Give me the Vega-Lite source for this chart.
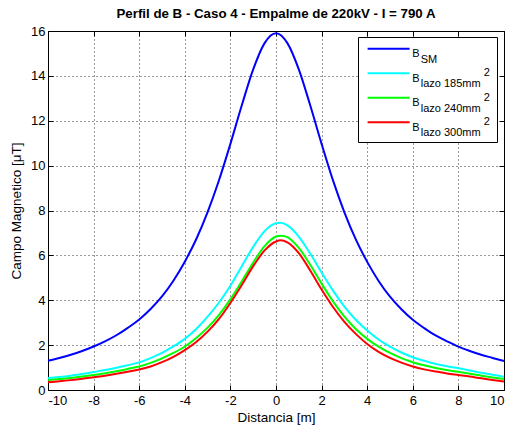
{
  "$schema": "https://vega.github.io/schema/vega-lite/v6.json",
  "autosize": {"type": "none"},
  "width": 456,
  "height": 359,
  "padding": {"left": 48, "top": 31, "right": 8, "bottom": 38},
  "background": "white",
  "config": {
    "font": "Liberation Sans",
    "view": {"stroke": "black", "strokeWidth": 1},
    "axis": {
      "domain": false,
      "labelColor": "black",
      "labelFontSize": 13,
      "labelFont": "Liberation Sans",
      "titleFont": "Liberation Sans",
      "titleFontSize": 13.5,
      "titleFontWeight": "normal",
      "titleColor": "black",
      "ticks": true,
      "tickColor": "black",
      "tickWidth": 1,
      "tickSize": -5,
      "gridColor": "black",
      "gridDash": [1, 3],
      "gridOpacity": 0.8,
      "gridWidth": 1
    }
  },
  "title": {"text": "Perfil de B - Caso 4 - Empalme de 220kV - I = 790 A", "font": "Liberation Sans", "fontSize": 13.3, "fontWeight": "bold", "color": "black", "offset": 5},
  "data": {"values": [
    {"x": -10, "s": "B_SM", "B": 1.30}, {"x": -9.5, "s": "B_SM", "B": 1.43}, {"x": -9, "s": "B_SM", "B": 1.57}, {"x": -8.5, "s": "B_SM", "B": 1.74}, {"x": -8, "s": "B_SM", "B": 1.94}, {"x": -7.5, "s": "B_SM", "B": 2.17}, {"x": -7, "s": "B_SM", "B": 2.44}, {"x": -6.5, "s": "B_SM", "B": 2.77}, {"x": -6, "s": "B_SM", "B": 3.14}, {"x": -5.5, "s": "B_SM", "B": 3.61}, {"x": -5, "s": "B_SM", "B": 4.17}, {"x": -4.5, "s": "B_SM", "B": 4.87}, {"x": -4, "s": "B_SM", "B": 5.72}, {"x": -3.5, "s": "B_SM", "B": 6.72}, {"x": -3, "s": "B_SM", "B": 7.93}, {"x": -2.5, "s": "B_SM", "B": 9.35}, {"x": -2, "s": "B_SM", "B": 10.97}, {"x": -1.5, "s": "B_SM", "B": 12.69}, {"x": -1, "s": "B_SM", "B": 14.29}, {"x": -0.5, "s": "B_SM", "B": 15.46}, {"x": 0, "s": "B_SM", "B": 15.9}, {"x": 0.5, "s": "B_SM", "B": 15.46}, {"x": 1, "s": "B_SM", "B": 14.29}, {"x": 1.5, "s": "B_SM", "B": 12.69}, {"x": 2, "s": "B_SM", "B": 10.97}, {"x": 2.5, "s": "B_SM", "B": 9.34}, {"x": 3, "s": "B_SM", "B": 7.92}, {"x": 3.5, "s": "B_SM", "B": 6.71}, {"x": 4, "s": "B_SM", "B": 5.71}, {"x": 4.5, "s": "B_SM", "B": 4.86}, {"x": 5, "s": "B_SM", "B": 4.16}, {"x": 5.5, "s": "B_SM", "B": 3.6}, {"x": 6, "s": "B_SM", "B": 3.13}, {"x": 6.5, "s": "B_SM", "B": 2.76}, {"x": 7, "s": "B_SM", "B": 2.43}, {"x": 7.5, "s": "B_SM", "B": 2.17}, {"x": 8, "s": "B_SM", "B": 1.93}, {"x": 8.5, "s": "B_SM", "B": 1.74}, {"x": 9, "s": "B_SM", "B": 1.57}, {"x": 9.5, "s": "B_SM", "B": 1.43}, {"x": 10, "s": "B_SM", "B": 1.29},

    {"x": -10, "s": "B_lazo 185mm^2", "B": 0.53}, {"x": -9.5, "s": "B_lazo 185mm^2", "B": 0.58}, {"x": -9, "s": "B_lazo 185mm^2", "B": 0.64}, {"x": -8.5, "s": "B_lazo 185mm^2", "B": 0.71}, {"x": -8, "s": "B_lazo 185mm^2", "B": 0.8}, {"x": -7.5, "s": "B_lazo 185mm^2", "B": 0.89}, {"x": -7, "s": "B_lazo 185mm^2", "B": 0.99}, {"x": -6.5, "s": "B_lazo 185mm^2", "B": 1.1}, {"x": -6, "s": "B_lazo 185mm^2", "B": 1.23}, {"x": -5.5, "s": "B_lazo 185mm^2", "B": 1.42}, {"x": -5, "s": "B_lazo 185mm^2", "B": 1.65}, {"x": -4.5, "s": "B_lazo 185mm^2", "B": 1.94}, {"x": -4, "s": "B_lazo 185mm^2", "B": 2.28}, {"x": -3.5, "s": "B_lazo 185mm^2", "B": 2.72}, {"x": -3, "s": "B_lazo 185mm^2", "B": 3.27}, {"x": -2.5, "s": "B_lazo 185mm^2", "B": 3.9}, {"x": -2, "s": "B_lazo 185mm^2", "B": 4.65}, {"x": -1.5, "s": "B_lazo 185mm^2", "B": 5.52}, {"x": -1, "s": "B_lazo 185mm^2", "B": 6.38}, {"x": -0.5, "s": "B_lazo 185mm^2", "B": 7.08}, {"x": 0, "s": "B_lazo 185mm^2", "B": 7.43}, {"x": 0.2, "s": "B_lazo 185mm^2", "B": 7.45}, {"x": 0.5, "s": "B_lazo 185mm^2", "B": 7.34}, {"x": 1, "s": "B_lazo 185mm^2", "B": 6.84}, {"x": 1.5, "s": "B_lazo 185mm^2", "B": 6.08}, {"x": 2, "s": "B_lazo 185mm^2", "B": 5.24}, {"x": 2.5, "s": "B_lazo 185mm^2", "B": 4.43}, {"x": 3, "s": "B_lazo 185mm^2", "B": 3.72}, {"x": 3.5, "s": "B_lazo 185mm^2", "B": 3.13}, {"x": 4, "s": "B_lazo 185mm^2", "B": 2.65}, {"x": 4.5, "s": "B_lazo 185mm^2", "B": 2.25}, {"x": 5, "s": "B_lazo 185mm^2", "B": 1.93}, {"x": 5.5, "s": "B_lazo 185mm^2", "B": 1.67}, {"x": 6, "s": "B_lazo 185mm^2", "B": 1.46}, {"x": 6.5, "s": "B_lazo 185mm^2", "B": 1.3}, {"x": 7, "s": "B_lazo 185mm^2", "B": 1.16}, {"x": 7.5, "s": "B_lazo 185mm^2", "B": 1.06}, {"x": 8, "s": "B_lazo 185mm^2", "B": 0.97}, {"x": 8.5, "s": "B_lazo 185mm^2", "B": 0.87}, {"x": 9, "s": "B_lazo 185mm^2", "B": 0.77}, {"x": 9.5, "s": "B_lazo 185mm^2", "B": 0.68}, {"x": 10, "s": "B_lazo 185mm^2", "B": 0.59},

    {"x": -10, "s": "B_lazo 240mm^2", "B": 0.44}, {"x": -9.5, "s": "B_lazo 240mm^2", "B": 0.49}, {"x": -9, "s": "B_lazo 240mm^2", "B": 0.54}, {"x": -8.5, "s": "B_lazo 240mm^2", "B": 0.6}, {"x": -8, "s": "B_lazo 240mm^2", "B": 0.67}, {"x": -7.5, "s": "B_lazo 240mm^2", "B": 0.75}, {"x": -7, "s": "B_lazo 240mm^2", "B": 0.84}, {"x": -6.5, "s": "B_lazo 240mm^2", "B": 0.94}, {"x": -6, "s": "B_lazo 240mm^2", "B": 1.05}, {"x": -5.5, "s": "B_lazo 240mm^2", "B": 1.21}, {"x": -5, "s": "B_lazo 240mm^2", "B": 1.41}, {"x": -4.5, "s": "B_lazo 240mm^2", "B": 1.65}, {"x": -4, "s": "B_lazo 240mm^2", "B": 1.94}, {"x": -3.5, "s": "B_lazo 240mm^2", "B": 2.32}, {"x": -3, "s": "B_lazo 240mm^2", "B": 2.78}, {"x": -2.5, "s": "B_lazo 240mm^2", "B": 3.35}, {"x": -2, "s": "B_lazo 240mm^2", "B": 4.04}, {"x": -1.5, "s": "B_lazo 240mm^2", "B": 4.84}, {"x": -1, "s": "B_lazo 240mm^2", "B": 5.68}, {"x": -0.5, "s": "B_lazo 240mm^2", "B": 6.41}, {"x": 0, "s": "B_lazo 240mm^2", "B": 6.84}, {"x": 0.22, "s": "B_lazo 240mm^2", "B": 6.88}, {"x": 0.5, "s": "B_lazo 240mm^2", "B": 6.81}, {"x": 1, "s": "B_lazo 240mm^2", "B": 6.33}, {"x": 1.5, "s": "B_lazo 240mm^2", "B": 5.58}, {"x": 2, "s": "B_lazo 240mm^2", "B": 4.74}, {"x": 2.5, "s": "B_lazo 240mm^2", "B": 3.95}, {"x": 3, "s": "B_lazo 240mm^2", "B": 3.27}, {"x": 3.5, "s": "B_lazo 240mm^2", "B": 2.72}, {"x": 4, "s": "B_lazo 240mm^2", "B": 2.28}, {"x": 4.5, "s": "B_lazo 240mm^2", "B": 1.93}, {"x": 5, "s": "B_lazo 240mm^2", "B": 1.65}, {"x": 5.5, "s": "B_lazo 240mm^2", "B": 1.42}, {"x": 6, "s": "B_lazo 240mm^2", "B": 1.24}, {"x": 6.5, "s": "B_lazo 240mm^2", "B": 1.1}, {"x": 7, "s": "B_lazo 240mm^2", "B": 0.98}, {"x": 7.5, "s": "B_lazo 240mm^2", "B": 0.89}, {"x": 8, "s": "B_lazo 240mm^2", "B": 0.81}, {"x": 8.5, "s": "B_lazo 240mm^2", "B": 0.72}, {"x": 9, "s": "B_lazo 240mm^2", "B": 0.64}, {"x": 9.5, "s": "B_lazo 240mm^2", "B": 0.56}, {"x": 10, "s": "B_lazo 240mm^2", "B": 0.49},

    {"x": -10, "s": "B_lazo 300mm^2", "B": 0.35}, {"x": -9.5, "s": "B_lazo 300mm^2", "B": 0.39}, {"x": -9, "s": "B_lazo 300mm^2", "B": 0.44}, {"x": -8.5, "s": "B_lazo 300mm^2", "B": 0.5}, {"x": -8, "s": "B_lazo 300mm^2", "B": 0.57}, {"x": -7.5, "s": "B_lazo 300mm^2", "B": 0.64}, {"x": -7, "s": "B_lazo 300mm^2", "B": 0.72}, {"x": -6.5, "s": "B_lazo 300mm^2", "B": 0.81}, {"x": -6, "s": "B_lazo 300mm^2", "B": 0.91}, {"x": -5.5, "s": "B_lazo 300mm^2", "B": 1.05}, {"x": -5, "s": "B_lazo 300mm^2", "B": 1.24}, {"x": -4.5, "s": "B_lazo 300mm^2", "B": 1.48}, {"x": -4, "s": "B_lazo 300mm^2", "B": 1.78}, {"x": -3.5, "s": "B_lazo 300mm^2", "B": 2.14}, {"x": -3, "s": "B_lazo 300mm^2", "B": 2.6}, {"x": -2.5, "s": "B_lazo 300mm^2", "B": 3.17}, {"x": -2, "s": "B_lazo 300mm^2", "B": 3.88}, {"x": -1.5, "s": "B_lazo 300mm^2", "B": 4.68}, {"x": -1, "s": "B_lazo 300mm^2", "B": 5.52}, {"x": -0.5, "s": "B_lazo 300mm^2", "B": 6.22}, {"x": 0, "s": "B_lazo 300mm^2", "B": 6.62}, {"x": 0.2, "s": "B_lazo 300mm^2", "B": 6.67}, {"x": 0.5, "s": "B_lazo 300mm^2", "B": 6.58}, {"x": 1, "s": "B_lazo 300mm^2", "B": 6.1}, {"x": 1.5, "s": "B_lazo 300mm^2", "B": 5.33}, {"x": 2, "s": "B_lazo 300mm^2", "B": 4.48}, {"x": 2.5, "s": "B_lazo 300mm^2", "B": 3.7}, {"x": 3, "s": "B_lazo 300mm^2", "B": 3.04}, {"x": 3.5, "s": "B_lazo 300mm^2", "B": 2.5}, {"x": 4, "s": "B_lazo 300mm^2", "B": 2.05}, {"x": 4.5, "s": "B_lazo 300mm^2", "B": 1.7}, {"x": 5, "s": "B_lazo 300mm^2", "B": 1.43}, {"x": 5.5, "s": "B_lazo 300mm^2", "B": 1.22}, {"x": 6, "s": "B_lazo 300mm^2", "B": 1.05}, {"x": 6.5, "s": "B_lazo 300mm^2", "B": 0.92}, {"x": 7, "s": "B_lazo 300mm^2", "B": 0.82}, {"x": 7.5, "s": "B_lazo 300mm^2", "B": 0.74}, {"x": 8, "s": "B_lazo 300mm^2", "B": 0.67}, {"x": 8.5, "s": "B_lazo 300mm^2", "B": 0.6}, {"x": 9, "s": "B_lazo 300mm^2", "B": 0.52}, {"x": 9.5, "s": "B_lazo 300mm^2", "B": 0.45}, {"x": 10, "s": "B_lazo 300mm^2", "B": 0.38}
  ]},
  "layer": [
    {
      "mark": {"type": "line", "strokeWidth": 2, "interpolate": "monotone"},
      "encoding": {
        "x": {"field": "x", "type": "quantitative",
              "scale": {"domain": [-10, 10], "nice": false, "zero": false},
              "axis": {"values": [-10, -8, -6, -4, -2, 0, 2, 4, 6, 8, 10], "title": "Distancia [m]", "labelPadding": 9, "titlePadding": 3, "grid": true,
                       "labelExpr": "datum.value < 0 ? '-' + (-datum.value) : '' + datum.value"}},
        "y": {"field": "B", "type": "quantitative",
              "scale": {"domain": [0, 16], "nice": false},
              "axis": {"values": [0, 2, 4, 6, 8, 10, 12, 14, 16], "title": "Campo Magnetico [μT]", "labelPadding": 8, "titlePadding": 7, "grid": true}},
        "color": {"field": "s", "type": "nominal",
                  "sort": ["B_SM", "B_lazo 185mm^2", "B_lazo 240mm^2", "B_lazo 300mm^2"],
                  "scale": {"domain": ["B_SM", "B_lazo 185mm^2", "B_lazo 240mm^2", "B_lazo 300mm^2"], "range": ["#0000ff", "#00ffff", "#00ff00", "#ff0000"]},
                  "legend": {
                    "title": null, "orient": "none", "legendX": 310, "legendY": 6,
                    "strokeColor": "black", "fillColor": "white", "padding": 3.7,
                    "symbolType": "M-0.3,0H5.7", "symbolSize": 196, "symbolStrokeWidth": 2,
                    "labelOffset": 34.5,
                    "labelFont": "Liberation Sans", "labelFontSize": 11, "labelColor": "black",
                    "labelLimit": 300, "rowPadding": 0.5,
                    "labelExpr": "datum.label == 'B_SM' ? ['', 'B', '\u200c\u2002\u00a0SM'] : ['\u200c\u2003\u2003\u2003\u2003\u2003\u2003\u2002' + '2\u00a0\u200c', 'B', '\u200c\u2002\u00a0' + replace(replace(datum.label, 'B_', ''), '^2', '')]",
                    "encode": {"labels": {"update": {"lineHeight": {"value": 5.5}}}}
                  }}
      }
    },
    {
      "mark": {"type": "line", "opacity": 0},
      "encoding": {
        "x": {"field": "x", "type": "quantitative",
              "axis": {"orient": "top", "values": [-10, -8, -6, -4, -2, 0, 2, 4, 6, 8, 10], "labels": false, "title": null, "grid": false}},
        "y": {"field": "B", "type": "quantitative",
              "axis": {"orient": "right", "values": [0, 2, 4, 6, 8, 10, 12, 14, 16], "labels": false, "title": null, "grid": false}},
        "detail": {"field": "s"}
      }
    }
  ],
  "resolve": {"axis": {"x": "independent", "y": "independent"}}
}
